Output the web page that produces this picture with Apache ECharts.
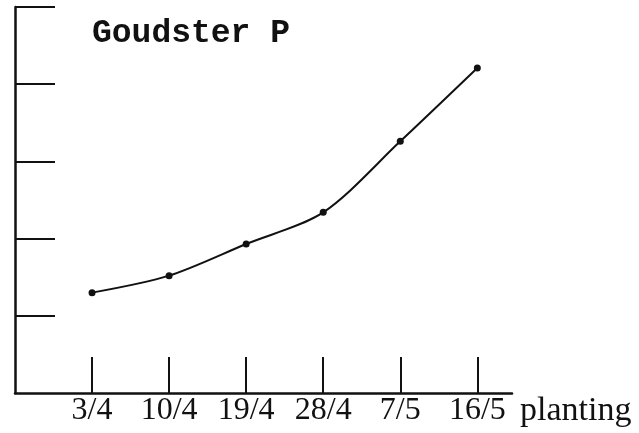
<!DOCTYPE html>
<html>
<head>
<meta charset="utf-8">
<script src="https://cdn.jsdelivr.net/npm/echarts@6/dist/echarts.min.js"></script>
<style>
    html, body { margin: 0; padding: 0; background: #fff; }
    #goudster { width: 639px; height: 433px; }
</style>
</head>
<body>
<div id="goudster"></div>
<script>
// planting dates (x positions 1..6)
let plantDates = ['3/4', '10/4', '19/4', '28/4', '7/5', '16/5'];
let plantPos = [1, 2, 3, 4, 5, 6];
// in units of the y ticks
let values = [1.30, 1.52, 1.93, 2.34, 3.26, 4.21];
let yTicks = [1, 2, 3, 4, 5];

let ink = '#111';
let points = plantPos.map((x, i) => [x, values[i]]);

let option = {
    animation: false,
    backgroundColor: '#fff',
    title: {
        text: 'Goudster P',
        left: 87,
        top: 12,
        textStyle: {
            fontFamily: 'Liberation Mono',
            fontWeight: 'bold',
            fontSize: 33,
            color: ink
        }
    },
    grid: {
        left: 15,
        top: 7,
        right: 127,
        bottom: 40,
        containLabel: false
    },
    xAxis: {
        type: 'value',
        min: 0,
        max: 6.45,
        name: 'planting',
        nameLocation: 'end',
        nameGap: 8,
        nameTextStyle: {
            fontFamily: 'Liberation Serif',
            fontSize: 34,
            color: ink,
            verticalAlign: 'top',
            padding: [1, 0, 0, 0]
        },
        splitLine: {show: false},
        axisLine: {lineStyle: {color: ink, width: 2.5}},
        axisTick: {
            inside: true,
            length: 36,
            customValues: plantPos,
            lineStyle: {color: ink, width: 2}
        },
        axisLabel: {
            customValues: plantPos,
            margin: 2,
            fontFamily: 'Liberation Serif',
            fontSize: 32,
            color: ink,
            formatter: (v) => plantDates[Math.round(v) - 1] || ''
        }
    },
    yAxis: {
        type: 'value',
        min: 0,
        max: 5,
        interval: 1,
        splitLine: {show: false},
        axisLine: {show: true, lineStyle: {color: ink, width: 2.5}},
        axisTick: {
            show: true,
            inside: true,
            length: 40,
            customValues: yTicks,
            lineStyle: {color: ink, width: 2}
        },
        axisLabel: {show: false}
    },
    series: [{
        type: 'line',
        data: points,
        smooth: 0.3,
        symbol: 'circle',
        symbolSize: 7,
        itemStyle: {color: ink},
        lineStyle: {color: ink, width: 2}
    }]
};

let chart = echarts.init(document.getElementById('goudster'));
chart.setOption(option);
</script>
</body>
</html>
